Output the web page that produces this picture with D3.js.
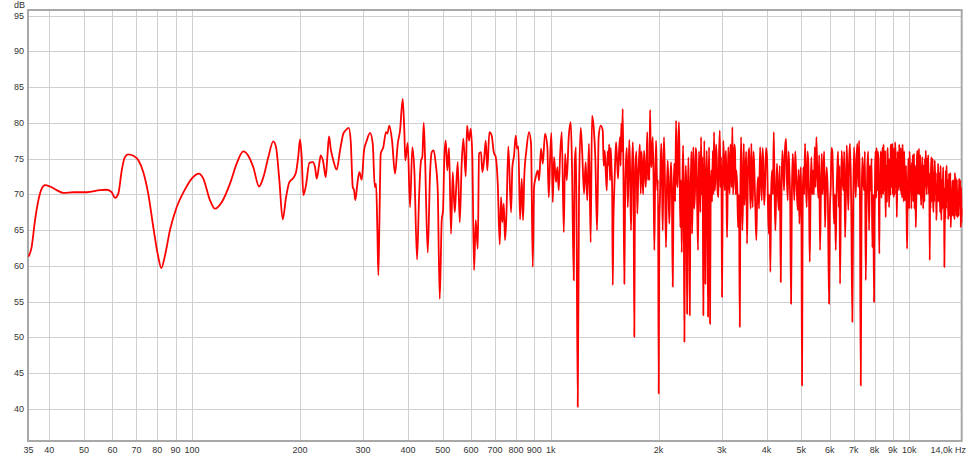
<!DOCTYPE html>
<html><head><meta charset="utf-8">
<script src="https://cdn.jsdelivr.net/npm/d3@7"></script>
<style>html,body{margin:0;padding:0;background:#fff;}svg{display:block;font-family:"Liberation Sans",Arial,sans-serif;}</style>
</head><body><svg id="c" width="975" height="456"></svg>
<script>
const xTickValues = [35,40,50,60,70,80,90,100,200,300,400,500,600,700,800,900,1000,2000,3000,4000,5000,6000,7000,8000,9000,10000];
const xTickLabels = ["35","40","50","60","70","80","90","100","200","300","400","500","600","700","800","900","1k","2k","3k","4k","5k","6k","7k","8k","9k","10k"];
const xEndLabel = "14,0k Hz";
const yTickValues = [40,45,50,55,60,65,70,75,80,85,90,95];
const yUnit = "dB";
const xDomain = [35, 14000];
const yDomain = [35.53, 95.77];

// [frequency Hz, level dB]
const bass = [[35,61.3],[35.7,62.6],[36.5,66.4],[37.3,69.2],[38.1,70.8],[38.9,71.3],[40.2,71.1],[41.95,70.6],[43.8,70.2],[46.7,70.3],[50.9,70.3],[55.4,70.6],[57.8,70.65],[59.7,70.3],[61.0,69.5],[62.3,70.1],[63.7,73.4],[65.0,75.2],[66.4,75.6],[68.6,75.4],[70.8,74.8],[73.15,73.1],[75.5,70.1],[78.0,65.4],[80.5,61.3],[82.1,59.7],[84.1,61.5],[86.8,65.0],[90.6,68.2],[95.6,70.7],[99.8,72.2],[104.6,72.9],[107.5,72.2],[112.2,69.2],[115.9,68.0],[121.0,68.9],[127.6,71.5],[133.2,74.3],[139.0,76.0],[143.5,75.4],[148.2,73.8],[153.8,71.1],[158.1,72.4],[163.2,75.2]];

const mids = [[168.5,77.4],[171.5,76.6],[175.2,71.95],[179.0,66.5],[182.9,69.6],[186.8,71.7],[191.6,72.3],[195.0,73.1],[197.9,75.4],[200.1,77.7],[202.2,75.2],[204.4,69.9],[207.9,71.3],[212.4,74.4],[217.1,74.5],[220.3,73.8],[222.7,72.2],[226.0,74.05],[228.5,75.45],[232.3,74.5],[235.9,72.4],[238.4,75.2],[241.0,78.1],[243.6,76.4],[247.8,74.75],[253.2,73.45],[258.6,76.1],[264.2,78.5],[268.8,79.0],[273.5,79.3],[277.0,77.5],[280.7,71.0],[283.0,70.6],[285.4,69.2],[289.1,71.5],[292.8,73.1],[297.3,72.05],[301.7,76.1],[307.0,77.5],[313.6,78.6],[319.1,77.1],[323.3,71.0],[326.0,71.5],[328.7,65.0],[330.8,58.7],[333.0,65.9],[335.9,75.7],[341.5,76.6],[347.5,78.7],[350.4,78.5],[355.0,79.6],[361.2,77.5],[368.2,72.9],[374.7,77.1],[380.2,78.9],[386.8,83.36],[390.8,78.9],[393.3,74.75],[399.5,77.2],[405.4,68.2],[411.5,76.6],[416.8,73.35],[424.1,60.9],[429.6,69.6],[435.1,74.75],[438.7,75.2],[442.7,80.0],[446.4,75.2],[454.2,61.85],[461.0,72.9],[466.0,75.9],[472.0,76.15],[478.1,74.3],[484.3,70.6],[490.6,55.4],[496.9,66.4],[501.1,67.8],[505.3,75.2],[509.9,77.5],[515.1,73.35],[520.8,76.5],[527.5,64.5],[533.3,73.1],[540.2,67.5],[544.7,70.55],[550.7,74.5],[557.8,66.1],[565.0,74.5],[570.9,77.8],[579.7,72.5],[584.6,79.6],[592.1,77.5],[598.6,79.2],[604.8,75.2],[611.5,59.4],[618.2,66.4],[626.2,62.4],[631.5,75.7],[639.6,75.9],[644.9,73.1],[652.0,74.75],[659.2,77.5],[666.0,73.35],[674.6,78.7],[685.0,78.2],[694.0,75.9],[702.9,75.2],[712.0,71.5],[721.2,63.0],[727.2,69.6],[733.3,66.1],[740.0,68.7],[746.1,63.6],[752.4,66.8],[762.1,76.7],[775.5,67.5],[782.0,73.8],[790.6,75.45],[799.2,78.2],[806.0,76.4],[812.7,76.7],[821.6,66.5],[830.6,72.2],[837.5,66.4],[844.6,72.7],[855.5,76.1],[870.5,78.7],[881.7,77.1],[891.4,59.85],[898.9,71.0],[908.7,72.4],[920.5,73.35],[928.2,71.95],[940.2,76.4],[950.6,74.3]];

const upperMids = [[964.7,78.5],[979,76.6],[987.9,69.6],[996.2,74.75],[1004.5,78.6],[1013.5,68.9],[1022,75.2],[1035,71.7],[1044,73.8],[1053,70.55],[1062,75.2],[1074,78.7],[1088,64.7],[1097,75.7],[1109,71.95],[1123,78.0],[1138,80.1],[1147,73.8],[1160,58.0],[1167,74.3],[1177,76.6],[1190,40.3],[1200,70.55],[1213,79.3],[1225,75.7],[1239,70.1],[1252,74.5],[1265,69.16],[1279,77.1],[1293,63.3],[1304,81.0],[1318,79.4],[1332,75.2],[1347,64.97],[1361,78.0],[1379,79.6],[1397,78.9],[1406,74.0],[1415,76.1],[1425,73.0],[1434,70.55],[1441,76.0],[1448,74.05],[1456,77.0],[1464,71.95],[1470,76.5],[1477,74.05],[1484,71.0],[1490,57.3],[1496,66.0],[1502,69.6],[1512,74.0],[1522,77.3],[1531,75.0],[1541,72.2],[1551,76.0],[1561,78.0],[1567,74.0],[1574,79.9],[1581,76.0],[1588,81.96],[1596,72.0],[1605,57.5],[1613,70.0],[1622,74.75],[1631,76.5],[1640,68.2],[1648,72.0],[1657,77.6],[1666,73.0],[1675,64.97],[1684,72.0],[1694,77.3],[1702,73.0],[1711,50.1],[1718,70.0],[1726,74.75],[1735,76.0],[1744,67.3],[1754,72.0],[1764,75.0],[1773,77.0],[1783,70.1],[1792,76.0],[1801,73.35],[1811,70.0],[1821,76.1],[1831,74.0],[1841,71.0],[1850,74.0],[1860,78.7],[1868,72.0],[1877,74.3],[1885,72.0],[1893,81.8],[1901,76.0],[1909,73.8],[1917,76.0],[1926,78.0],[1936,72.0],[1946,62.2],[1956,72.0],[1967,77.5],[1975,74.0],[1983,70.55],[1992,72.0],[2001,42.16],[2009,66.0],[2018,69.6],[2026,74.0],[2035,77.1],[2044,72.0],[2053,64.97],[2061,72.0],[2070,78.0],[2083,72.0],[2097,62.6],[2108,70.0],[2120,74.75],[2131,71.0],[2142,65.9],[2154,71.0],[2166,74.5],[2178,70.0],[2190,57.1],[2201,70.0]];

const treble = [[2212,74.3],[2224,69.0],[2237,80.3],[2249,72.0],[2261,71.0],[2270,77.5],[2280,80.1],[2290,72.5],[2299,65.4],[2310,72.0],[2320,61.9],[2330,70.5],[2340,76.85],[2350,70.0],[2360,49.4],[2370,68.0],[2381,74.05],[2391,70.0],[2401,53.3],[2411,68.5],[2421,75.2],[2432,69.0],[2443,53.1],[2453,69.0],[2463,73.6],[2471,76.0],[2479,64.5],[2490,70.0],[2500,76.6],[2513,68.0],[2527,70.55],[2537,76.5],[2548,75.7],[2562,68.5],[2576,62.2],[2590,76.0],[2605,72.9],[2615,67.5],[2626,78.0],[2637,70.0],[2648,75.2],[2656,70.0],[2665,53.1],[2673,70.0],[2682,77.5],[2691,70.0],[2700,57.5],[2712,70.0],[2724,76.1],[2735,70.0],[2747,52.9],[2756,70.0],[2765,76.6],[2773,70.0],[2782,51.9],[2794,70.0],[2806,73.35],[2819,69.0],[2832,76.1],[2843,70.0],[2855,78.7],[2867,70.5],[2879,71.95],[2892,77.0],[2905,75.2],[2920,70.5],[2935,69.6],[2948,75.5],[2962,78.9],[2975,71.0],[2987,75.2],[2996,70.0],[3005,55.66],[3017,70.0],[3030,77.5],[3044,74.0],[3058,70.55],[3070,75.0],[3083,76.1],[3093,70.0],[3103,64.0],[3116,70.5],[3129,76.6],[3143,72.0],[3157,70.1],[3170,77.0],[3184,75.2],[3197,71.0],[3211,79.4],[3225,70.0],[3240,72.4],[3253,77.0],[3267,76.1],[3281,70.0],[3295,73.35],[3313,71.0],[3331,65.4],[3350,70.0],[3368,51.5],[3382,71.0],[3396,78.0],[3410,72.0],[3424,64.97],[3440,70.0],[3455,77.1],[3473,68.5],[3491,72.4],[3510,76.0],[3528,63.1],[3543,70.0],[3558,75.2],[3578,76.5],[3597,70.55],[3612,68.0],[3627,77.1],[3643,72.0],[3660,68.2],[3679,76.0],[3698,73.35],[3722,68.0],[3746,63.6],[3766,70.0],[3787,72.4],[3811,68.0],[3836,76.6],[3857,73.0],[3878,69.16],[3898,76.5],[3918,74.3],[3939,68.5],[3960,71.0],[3986,76.5],[4012,75.2],[4034,69.0],[4056,64.5],[4077,70.0],[4098,59.15],[4120,70.5],[4143,73.35],[4166,70.0],[4189,78.7],[4210,71.0],[4232,64.97],[4255,70.5],[4278,74.3],[4301,70.0],[4325,67.8],[4353,74.0],[4381,57.75],[4404,71.0],[4427,76.1],[4451,74.0],[4475,70.55],[4504,76.5],[4533,77.8],[4558,72.0],[4583,69.16],[4606,76.0],[4630,73.35],[4655,69.0],[4681,54.7],[4706,70.0],[4732,75.7],[4756,72.5],[4781,69.16],[4807,76.0],[4834,73.35],[4860,70.0],[4887,67.8],[4912,73.5],[4938,65.9],[4960,71.0],[4982,73.8],[5002,68.0],[5023,43.3],[5044,69.0],[5065,73.8],[5092,70.0],[5120,77.1],[5148,72.0],[5177,68.2],[5203,76.0],[5230,74.3],[5254,69.0],[5278,60.55],[5305,70.0],[5332,75.2],[5361,70.0],[5390,73.35],[5420,70.0],[5450,76.6],[5478,71.0],[5506,78.0],[5541,73.0],[5577,69.5],[5607,75.5],[5638,62.2],[5669,70.0],[5700,75.7],[5730,70.0],[5759,72.9],[5790,76.0],[5822,65.4],[5854,70.5],[5886,73.8],[5930,69.0],[5974,54.7],[6006,68.0],[6039,71.0],[6070,76.5],[6102,75.9],[6135,71.0],[6169,65.9],[6202,70.0],[6236,62.2],[6268,70.0],[6301,73.8],[6330,76.0],[6358,68.2],[6384,74.0],[6411,57.5],[6446,70.0],[6481,76.1],[6515,72.0],[6549,70.55],[6585,76.0],[6622,64.0],[6657,70.0],[6693,76.85],[6727,72.0],[6762,67.8],[6799,75.0],[6836,77.1],[6887,69.0],[6938,52.2],[6976,69.0],[7014,76.6],[7052,73.0],[7091,69.6],[7128,75.0],[7165,77.1],[7204,71.0],[7244,77.5],[7283,70.0],[7323,43.3],[7360,68.0],[7398,75.2],[7438,72.0],[7479,70.55],[7520,76.0],[7561,58.0],[7600,68.0],[7640,73.8],[7682,76.0],[7724,64.97],[7766,74.0],[7808,70.55],[7848,75.0],[7888,62.6],[7931,70.0]];

const air = [[7975,54.96],[7996,66.0],[8018,70.0],[8040,76.0],[8062,75.2],[8083,69.5],[8103,76.5],[8124,72.0],[8145,70.55],[8171,76.0],[8198,75.0],[8224,69.0],[8251,61.7],[8273,73.0],[8296,70.0],[8318,76.0],[8341,75.2],[8364,69.5],[8387,72.0],[8410,76.5],[8433,76.1],[8455,70.0],[8476,77.0],[8498,72.0],[8520,70.55],[8539,75.5],[8558,76.0],[8577,70.0],[8597,66.8],[8619,74.0],[8641,73.0],[8663,69.0],[8686,75.7],[8710,76.5],[8733,71.0],[8757,75.0],[8781,68.2],[8805,71.0],[8829,75.0],[8853,70.0],[8877,76.6],[8900,77.0],[8923,71.0],[8946,74.0],[8969,77.1],[8990,70.0],[9010,73.0],[9030,76.5],[9050,69.6],[9069,72.0],[9088,75.0],[9107,70.0],[9126,77.3],[9151,76.0],[9176,71.0],[9201,75.0],[9227,66.8],[9250,70.0],[9274,76.0],[9298,70.5],[9322,74.3],[9347,71.0],[9373,77.0],[9398,74.0],[9424,70.55],[9450,72.0],[9475,76.5],[9501,70.0],[9527,73.8],[9551,69.5],[9576,77.0],[9601,75.0],[9626,71.95],[9652,69.0],[9678,76.0],[9704,72.0],[9731,69.16],[9762,71.0],[9794,74.0],[9825,68.0],[9857,62.4],[9884,67.0],[9911,70.0],[9938,75.0],[9966,72.9],[9991,68.0],[10017,76.0],[10042,74.0],[10068,70.55],[10100,74.0],[10133,68.0],[10166,74.5],[10199,72.9],[10227,75.5],[10255,69.0],[10282,72.0],[10310,75.7],[10338,68.0],[10366,71.0],[10394,74.0],[10423,65.4],[10450,68.0],[10477,71.0],[10504,75.0],[10531,76.1],[10560,72.0],[10589,70.0],[10618,75.0],[10647,76.4],[10676,70.0],[10705,73.0],[10734,75.5],[10764,70.55],[10792,68.5],[10820,74.0],[10847,70.0],[10875,75.2],[10904,72.0],[10934,68.0],[10964,74.0],[10994,71.5],[11024,69.0],[11054,75.0],[11084,71.0],[11114,76.1],[11150,73.0],[11186,70.0],[11222,75.0],[11259,72.9],[11295,75.5],[11331,70.0],[11367,73.0],[11404,60.8],[11433,71.0],[11462,68.0],[11491,73.0],[11521,75.2],[11552,69.0],[11584,72.0],[11616,75.0],[11648,69.16],[11680,67.5],[11712,73.0],[11744,69.0],[11776,74.75],[11806,72.0],[11837,70.0],[11867,73.0],[11898,66.4],[11930,69.0],[11963,71.0],[11996,69.0],[12029,74.3],[12062,72.0],[12095,69.0],[12128,73.0],[12161,70.55],[12192,67.5],[12224,74.0],[12255,70.0],[12287,66.4],[12320,72.0],[12353,70.0],[12386,68.0],[12420,73.8],[12446,72.0],[12472,68.0],[12498,71.0],[12524,59.85],[12552,65.0],[12580,69.0],[12608,66.5],[12637,73.35],[12670,68.0],[12702,74.0],[12735,71.0],[12768,69.16],[12803,72.0],[12838,66.5],[12873,70.0],[12909,72.9],[12945,67.0],[12980,69.0],[13015,73.0],[13050,65.4],[13083,68.0],[13117,69.0],[13151,67.0],[13185,71.95],[13221,70.0],[13257,67.0],[13293,72.0],[13330,69.16],[13366,66.5],[13402,73.0],[13438,70.0],[13475,72.4],[13510,67.0],[13546,69.0],[13581,72.0],[13617,66.8],[13654,68.0],[13691,70.0],[13728,67.0],[13766,72.2],[13803,70.0],[13841,69.0],[13878,72.0],[13916,65.4],[13938,69.0],[13960,71.0],[13980,66.0],[14000,68.0]];

const series = bass.concat(mids, upperMids, treble, air);

const W = 975, H = 456;
const m = {left: 28, right: 13, top: 10, bottom: 15};
const svg = d3.select("#c");
const x = d3.scaleLog().domain(xDomain).range([m.left + 0.5, W - m.right - 0.3]);
const y = d3.scaleLinear().domain(yDomain).range([H - m.bottom, m.top]);

// horizontal grid
svg.append("g").selectAll("line").data(yTickValues).join("line")
  .attr("x1", x.range()[0]).attr("x2", x.range()[1])
  .attr("y1", d => Math.round(y(d)) + 0.5).attr("y2", d => Math.round(y(d)) + 0.5)
  .attr("stroke", "#cfcfcf").attr("stroke-width", 1);
// vertical grid
svg.append("g").selectAll("line").data(xTickValues.slice(1)).join("line")
  .attr("x1", d => Math.round(x(d)) + 0.5).attr("x2", d => Math.round(x(d)) + 0.5)
  .attr("y1", y.range()[1]).attr("y2", y.range()[0])
  .attr("stroke", "#cfcfcf").attr("stroke-width", 1);

// frame
svg.append("rect")
  .attr("x", x.range()[0] - 0.5).attr("y", y.range()[1])
  .attr("width", x.range()[1] - x.range()[0] + 0.5).attr("height", y.range()[0] - y.range()[1])
  .attr("fill", "none").attr("stroke", "#a8a8a8").attr("stroke-width", 2);

// curve
const line = d3.line().x(d => x(d[0])).y(d => y(d[1])).curve(d3.curveMonotoneX);
svg.append("path").datum(series).attr("d", line)
  .attr("fill", "none").attr("stroke", "#f00").attr("stroke-width", 1.8).attr("stroke-linejoin", "round");

// y axis labels
svg.append("g").selectAll("text").data(yTickValues).join("text")
  .attr("x", m.left - 4).attr("y", d => y(d) + 3)
  .attr("text-anchor", "end").attr("font-size", 9).attr("fill", "#333")
  .text(d => d);
svg.append("text").attr("x", m.left - 3).attr("y", 8).attr("text-anchor", "end")
  .attr("font-size", 9).attr("fill", "#333").text(yUnit);

// x axis labels
svg.append("g").selectAll("text").data(xTickValues).join("text")
  .attr("x", d => x(d)).attr("y", H - 3)
  .attr("text-anchor", "middle").attr("font-size", 9).attr("fill", "#333")
  .text((d, i) => xTickLabels[i]);
svg.append("text").attr("x", W - 9).attr("y", H - 3).attr("text-anchor", "end")
  .attr("font-size", 9).attr("fill", "#333").text(xEndLabel);
</script></body></html>
